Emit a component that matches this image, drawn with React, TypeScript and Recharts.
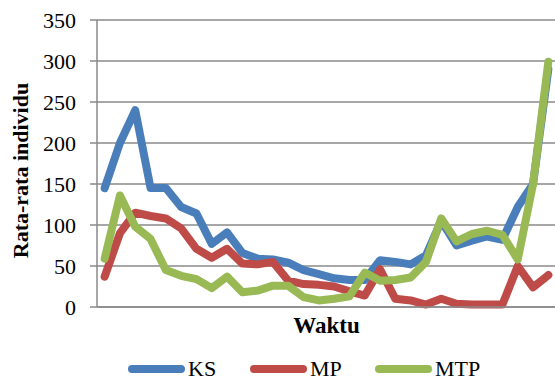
import { LineChart, Line, XAxis, YAxis, CartesianGrid, Legend } from 'recharts';

const waktu = ['1', '2', '3', '4', '5', '6', '7', '8', '9', '10', '11', '12', '13', '14', '15',
  '16', '17', '18', '19', '20', '21', '22', '23', '24', '25', '26', '27', '28', '29', '30'];

const ks = [145, 200, 240, 145, 145, 122, 114, 77, 91, 66, 59, 58, 54, 45, 40,
  35, 33, 33, 57, 55, 52, 63, 105, 75, 81, 86, 82, 122, 150, 290];
const mp = [37, 90, 115, 111, 108, 96, 71, 60, 71, 53, 52, 55, 32, 28, 27,
  25, 19, 14, 46, 10, 8, 3, 10, 4, 3, 3, 3, 50, 24, 39];
const mtp = [59, 136, 98, 83, 45, 38, 34, 23, 37, 18, 20, 26, 26, 12, 8,
  10, 13, 42, 32, 33, 36, 55, 108, 80, 89, 93, 88, 58, 150, 299];

const yTicks = [0, 50, 100, 150, 200, 250, 300, 350];

const series = [
  { key: 'KS', color: '#4A7EBB' },
  { key: 'MP', color: '#BE4B48' },
  { key: 'MTP', color: '#98B954' },
];

const data = waktu.map((w, i) => ({ waktu: w, KS: ks[i], MP: mp[i], MTP: mtp[i] }));

const font = '"Liberation Serif", "Times New Roman", Tinos, "DejaVu Serif", serif';
const grey = '#8a8a8a';
// legend item offsets (line start) from the legend's left edge
const legendX = [0, 122, 247];

function LegendBox() {
  return (
    <svg width={380} height={30} style={{ display: 'block' }}>
      {series.map((s, i) => (
        <g key={s.key}>
          <line x1={legendX[i] + 4} y1={12} x2={legendX[i] + 53} y2={12} stroke={s.color} strokeWidth={8} strokeLinecap="round" />
          <text x={legendX[i] + 60} y={19} fontFamily={font} fontSize={22} fill="#000">
            {s.key}
          </text>
        </g>
      ))}
    </svg>
  );
}

export default function App() {
  return (
    <div style={{ position: 'absolute', left: 0, top: 0, width: 555, height: 381, overflow: 'hidden', background: '#fff' }}>
      <LineChart width={570} height={381} data={data} margin={{ top: 20, right: 14, left: 0, bottom: 44 }}>
        <CartesianGrid vertical={false} stroke={grey} strokeWidth={1.5} />
        <XAxis
          dataKey="waktu"
          tick={false}
          tickLine={false}
          height={30}
          padding={{ left: 7.65, right: 7.65 }}
          axisLine={{ stroke: grey, strokeWidth: 1.5 }}
          label={(props: any) => {
            const vb = props.viewBox || { x: 97, y: 307, width: 459 };
            return (
              <text x={vb.x + vb.width / 2} y={vb.y + 26} textAnchor="middle" fontFamily={font} fontSize={23} fontWeight="bold" fill="#000">
                Waktu
              </text>
            );
          }}
        />
        <YAxis
          domain={[0, 350]}
          ticks={yTicks}
          width={97}
          interval={0}
          tickSize={7}
          tickLine={{ stroke: grey, strokeWidth: 1.5 }}
          axisLine={{ stroke: grey, strokeWidth: 1.5 }}
          tick={{ fontFamily: font, fontSize: 22, fill: '#000' }}
          tickMargin={14}
          label={(props: any) => {
            const vb = props.viewBox || { y: 20, height: 287 };
            const cy = vb.y + vb.height / 2 + 7;
            return (
              <text transform={`translate(28, ${cy}) rotate(-90)`} textAnchor="middle" fontFamily={font} fontSize={22} fontWeight="bold" fill="#000">
                Rata-rata individu
              </text>
            );
          }}
        />
        <Legend
          layout="horizontal"
          verticalAlign="middle"
          align="center"
          wrapperStyle={{ position: 'absolute', left: 128, top: 357, width: 380, height: 30 }}
          content={() => <LegendBox />}
        />
        {series.map((s) => (
          <Line
            key={s.key}
            type="linear"
            dataKey={s.key}
            stroke={s.color}
            strokeWidth={8}
            strokeLinejoin="round"
            strokeLinecap="round"
            dot={false}
            activeDot={false}
            isAnimationActive={false}
          />
        ))}
      </LineChart>
    </div>
  );
}
